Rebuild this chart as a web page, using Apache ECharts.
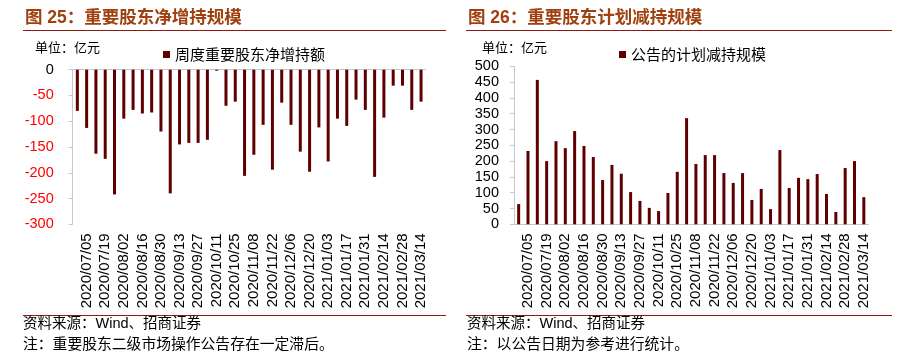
<!DOCTYPE html>
<html>
<head>
<meta charset="utf-8">
<script src="https://cdn.jsdelivr.net/npm/echarts@6/dist/echarts.min.js"></script>
<style>
html,body{margin:0;padding:0;background:#fff;}
#c{width:903px;height:363px;}
</style>
</head>
<body>
<div id="c"></div>
<script>
// Weekly dates (categories shared by both charts)
var categories = [
  '2020/06/28','2020/07/05','2020/07/12','2020/07/19','2020/07/26',
  '2020/08/02','2020/08/09','2020/08/16','2020/08/23','2020/08/30',
  '2020/09/06','2020/09/13','2020/09/20','2020/09/27',
  '2020/10/04','2020/10/11','2020/10/18','2020/10/25',
  '2020/11/01','2020/11/08','2020/11/15','2020/11/22','2020/11/29',
  '2020/12/06','2020/12/13','2020/12/20','2020/12/27',
  '2021/01/03','2021/01/10','2021/01/17','2021/01/24','2021/01/31',
  '2021/02/07','2021/02/14','2021/02/21','2021/02/28',
  '2021/03/07','2021/03/14'
];
// 图25 周度重要股东净增持额（亿元）
var netIncrease = [
  -80,-113,-163,-173,-242,-95,-78,-85,-83,-120,-240,-145,-142,-142,-136,-2,-70,-62,
  -206,-165,-107,-194,-64,-107,-159,-198,-112,-178,-95,-109,-58,-78,-208,-93,-31,-31,-78,-62
];
// 图26 公告的计划减持规模（亿元）
var plannedReduction = [
  64,232,457,200,263,241,295,248,213,140,188,160,102,74,52,42,99,166,
  336,191,219,219,162,131,162,77,112,48,235,115,147,143,159,96,39,178,200,86
];
var leftYTicks = {min:-300, max:0, interval:50};
var rightYTicks = {min:0, max:500, interval:50};

var NUM_FONT = '"Liberation Sans", Arial, sans-serif';
var CJK_FONT = '"Noto Sans CJK SC", sans-serif';
var MIX_FONT = '"Liberation Sans", "Noto Sans CJK SC", sans-serif';
var BAR = '#5E0000';
var AXIS = '#C8C8C8';
var TITLE_C = '#A0400E';
var LINE_C = '#8E1A12';

function oddOnly(i){ return i % 2 === 1; }

var chart = echarts.init(document.getElementById('c'));
chart.setOption({
  animation: false,
  backgroundColor: '#fff',
  grid: [
    {left: 72.7, top: 69.7, width: 353, height: 154.6, containLabel: false},
    {left: 514, top: 66.3, width: 354.5, height: 158, containLabel: false}
  ],
  legend: [
    {left: 158, top: 42, itemWidth: 7, itemHeight: 7, icon: 'rect',
     data: ['周度重要股东净增持额'],
     textStyle: {fontFamily: CJK_FONT, fontSize: 15, color: '#000'}},
    {left: 614, top: 42, itemWidth: 7, itemHeight: 7, icon: 'rect',
     data: ['公告的计划减持规模'],
     textStyle: {fontFamily: CJK_FONT, fontSize: 15, color: '#000'}}
  ],
  xAxis: [
    {type: 'category', gridIndex: 0, position: 'top', data: categories,
     axisLine: {show: true, onZero: false, lineStyle: {color: AXIS}},
     axisTick: {show: false}, axisLabel: {show: false}, splitLine: {show: false}},
    {type: 'category', gridIndex: 0, position: 'bottom', data: categories,
     axisLine: {show: false}, axisTick: {show: false}, splitLine: {show: false},
     axisLabel: {rotate: 90, interval: oddOnly, margin: 9, fontFamily: NUM_FONT, fontSize: 15, color: '#000'}},
    {type: 'category', gridIndex: 1, position: 'bottom', data: categories,
     axisLine: {show: true, lineStyle: {color: AXIS}},
     axisTick: {show: false}, splitLine: {show: false},
     axisLabel: {rotate: 90, interval: oddOnly, margin: 9, fontFamily: NUM_FONT, fontSize: 15, color: '#000'}}
  ],
  yAxis: [
    {type: 'value', gridIndex: 0, min: leftYTicks.min, max: leftYTicks.max, interval: leftYTicks.interval,
     axisLine: {show: true, lineStyle: {color: AXIS}},
     axisTick: {show: true, length: 4, lineStyle: {color: AXIS}},
     splitLine: {show: false},
     axisLabel: {margin: 19, fontFamily: NUM_FONT, fontSize: 14.5,
       color: function(v){ return Number(v) < 0 ? '#FF0000' : '#000000'; }}},
    {type: 'value', gridIndex: 1, min: rightYTicks.min, max: rightYTicks.max, interval: rightYTicks.interval,
     axisLine: {show: true, lineStyle: {color: AXIS}},
     axisTick: {show: true, length: 4, lineStyle: {color: AXIS}},
     splitLine: {show: false},
     axisLabel: {margin: 15, fontFamily: NUM_FONT, fontSize: 14.5, color: '#000'}}
  ],
  series: [
    {name: '周度重要股东净增持额', type: 'bar', xAxisIndex: 0, yAxisIndex: 0,
     data: netIncrease, barWidth: 3, itemStyle: {color: BAR}},
    {name: '公告的计划减持规模', type: 'bar', xAxisIndex: 2, yAxisIndex: 1,
     data: plannedReduction, barWidth: 3, itemStyle: {color: BAR}}
  ],
  graphic: [
    {type: 'text', left: 25, top: 9, style: {text: '图 25：重要股东净增持规模', font: 'bold 17.5px ' + MIX_FONT, fill: TITLE_C}},
    {type: 'text', left: 468, top: 9, style: {text: '图 26：重要股东计划减持规模', font: 'bold 17.5px ' + MIX_FONT, fill: TITLE_C}},
    {type: 'line', shape: {x1: 23, y1: 30.5, x2: 446, y2: 30.5}, style: {stroke: LINE_C, lineWidth: 1}},
    {type: 'line', shape: {x1: 466, y1: 30.5, x2: 892, y2: 30.5}, style: {stroke: LINE_C, lineWidth: 1}},
    {type: 'text', left: 35, top: 41, style: {text: '单位：亿元', font: '13px ' + CJK_FONT, fill: '#000'}},
    {type: 'text', left: 482, top: 41, style: {text: '单位：亿元', font: '13px ' + CJK_FONT, fill: '#000'}},
    {type: 'line', shape: {x1: 23, y1: 315.5, x2: 446, y2: 315.5}, style: {stroke: LINE_C, lineWidth: 1}},
    {type: 'line', shape: {x1: 466, y1: 315.5, x2: 892, y2: 315.5}, style: {stroke: LINE_C, lineWidth: 1}},
    {type: 'text', left: 23, top: 317, style: {text: '资料来源：Wind、招商证券', font: '14.5px ' + MIX_FONT, fill: '#000'}},
    {type: 'text', left: 23, top: 338, style: {text: '注：重要股东二级市场操作公告存在一定滞后。', font: '14.8px ' + MIX_FONT, fill: '#000'}},
    {type: 'text', left: 467, top: 317, style: {text: '资料来源：Wind、招商证券', font: '14.5px ' + MIX_FONT, fill: '#000'}},
    {type: 'text', left: 467, top: 338, style: {text: '注：以公告日期为参考进行统计。', font: '14.8px ' + MIX_FONT, fill: '#000'}}
  ]
});
</script>
</body>
</html>
